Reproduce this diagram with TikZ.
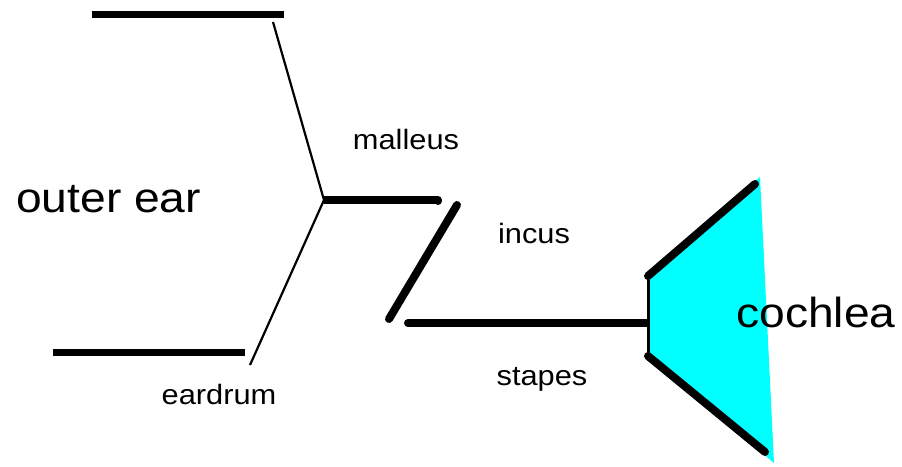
\documentclass[tikz,border=0pt]{standalone}
\usepackage{fontspec}
\setmainfont{Liberation Sans}
\begin{document}
\begin{tikzpicture}[x=1pt,y=-1pt,
  wall/.style={line width=7pt,line cap=butt},
  drum/.style={line width=2.2pt,line join=round},
  bone/.style={line width=8pt,line cap=round},
  big/.style={inner sep=0pt,anchor=base west,xscale=1.1,font=\fontsize{42}{48}\selectfont},
  small/.style={inner sep=0pt,anchor=base,xscale=1.1,font=\fontsize{28}{32}\selectfont}]
\useasboundingbox (0,0) rectangle (902,466);
\definecolor{cochleacyan}{RGB}{0,255,255}

% ear canal walls
\coordinate (wt1) at (92,14);  \coordinate (wt2) at (284,14);
\coordinate (wb1) at (53,352); \coordinate (wb2) at (245,352);
\draw[wall] (wt1) -- (wt2);
\draw[wall] (wb1) -- (wb2);

% eardrum
\coordinate (dtop) at (273,22);
\coordinate (umbo) at (324,200);
\coordinate (dbot) at (250,365);
\draw[drum] (dtop) -- (umbo) -- (dbot);

% ossicles
\coordinate (mal) at (438,201);
\coordinate (inc1) at (457,205);
\coordinate (inc2) at (389,319);
\coordinate (sta1) at (408,323);
\coordinate (sta2) at (648,323);
\draw[line width=8pt,line cap=butt] (umbo) -- (umbo -| mal);
\draw[bone] (umbo -| mal) -- (mal);
\draw[bone] (inc1) -- (inc2);
\draw[line width=8pt,line cap=round] (sta1) -- (sta2);

% cochlea
\coordinate (c1) at (648,276);
\coordinate (c2) at (760,177);
\coordinate (c3) at (774,463);
\coordinate (c4) at (648,356);
\fill[cochleacyan] (c1) -- (c2) -- (c3) -- (c4) -- cycle;
\coordinate (ct) at (755,184);
\coordinate (cb) at (765,452);
\draw[line width=3pt] (c1) -- (c4);
\draw[bone] (c1) -- (ct);
\draw[bone] (c4) -- (cb);

% labels
\node[big]   (outer)    at (16,212)  {outer ear};
\node[big]   (cochlea)  at (736,327) {cochlea};
\node[small] (malleus)  at (406,149) {malleus};
\node[small] (incus)    at (534,243) {incus};
\node[small] (stapes)   at (542,385) {stapes};
\node[small] (eardrum)  at (219,404) {eardrum};
\end{tikzpicture}
\end{document}
